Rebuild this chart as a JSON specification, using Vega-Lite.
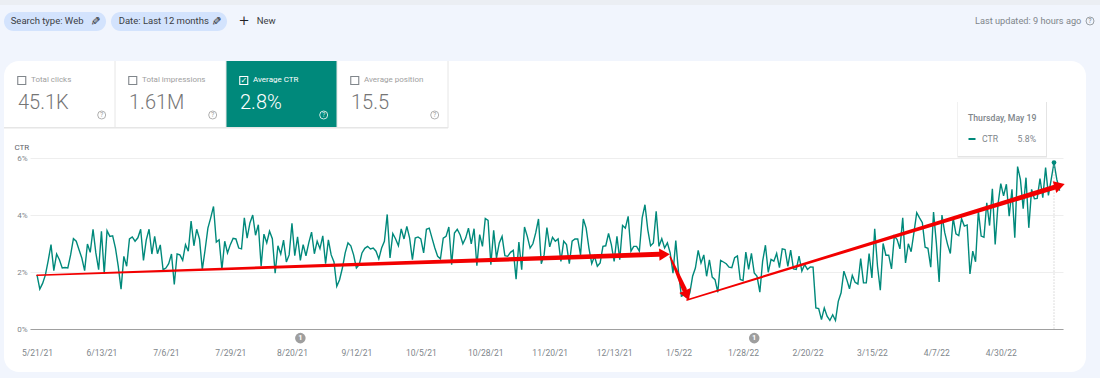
{
"$schema":"https://vega.github.io/schema/vega-lite/v6.json",
"width":1082,"height":311,
"autosize":"none",
"padding":{"left":4,"top":61,"right":14,"bottom":6},
"background":"#f1f5fd",
"config":{"font":"Roboto","view":{"fill":"#ffffff","stroke":null,"cornerRadius":15}},
"datasets":{
"ctr":[
{"date":"2021-05-21","ctr":1.9},{"date":"2021-05-22","ctr":1.4},{"date":"2021-05-23","ctr":1.6},{"date":"2021-05-24","ctr":1.9},{"date":"2021-05-25","ctr":2.4},{"date":"2021-05-26","ctr":2.96},{"date":"2021-05-27","ctr":2.05},{"date":"2021-05-28","ctr":2.63},{"date":"2021-05-29","ctr":2.43},{"date":"2021-05-30","ctr":2.14},{"date":"2021-05-31","ctr":2.16},
{"date":"2021-06-01","ctr":2.14},{"date":"2021-06-02","ctr":2.6},{"date":"2021-06-03","ctr":3.17},{"date":"2021-06-04","ctr":3.08},{"date":"2021-06-05","ctr":2.78},{"date":"2021-06-06","ctr":2.49},{"date":"2021-06-07","ctr":2.05},{"date":"2021-06-08","ctr":2.98},{"date":"2021-06-09","ctr":2.69},{"date":"2021-06-10","ctr":3.5},{"date":"2021-06-11","ctr":2.67},{"date":"2021-06-12","ctr":2.08},{"date":"2021-06-13","ctr":3.43},{"date":"2021-06-14","ctr":1.94},{"date":"2021-06-15","ctr":3.45},{"date":"2021-06-16","ctr":3.25},{"date":"2021-06-17","ctr":3.27},{"date":"2021-06-18","ctr":2.84},{"date":"2021-06-19","ctr":2.2},{"date":"2021-06-20","ctr":1.4},{"date":"2021-06-21","ctr":2.55},{"date":"2021-06-22","ctr":2.2},{"date":"2021-06-23","ctr":3.16},{"date":"2021-06-24","ctr":3.23},{"date":"2021-06-25","ctr":3.08},{"date":"2021-06-26","ctr":3.2},{"date":"2021-06-27","ctr":3.5},{"date":"2021-06-28","ctr":2.41},{"date":"2021-06-29","ctr":3.13},{"date":"2021-06-30","ctr":3.5},
{"date":"2021-07-01","ctr":2.63},{"date":"2021-07-02","ctr":3.25},{"date":"2021-07-03","ctr":2.64},{"date":"2021-07-04","ctr":2.95},{"date":"2021-07-05","ctr":2.08},{"date":"2021-07-06","ctr":2.14},{"date":"2021-07-07","ctr":2.29},{"date":"2021-07-08","ctr":2.63},{"date":"2021-07-09","ctr":1.56},{"date":"2021-07-10","ctr":2.63},{"date":"2021-07-11","ctr":2.6},{"date":"2021-07-12","ctr":2.41},{"date":"2021-07-13","ctr":2.96},{"date":"2021-07-14","ctr":2.73},{"date":"2021-07-15","ctr":3.79},{"date":"2021-07-16","ctr":2.92},{"date":"2021-07-17","ctr":3.5},{"date":"2021-07-18","ctr":3.16},{"date":"2021-07-19","ctr":2.08},{"date":"2021-07-20","ctr":2.78},{"date":"2021-07-21","ctr":3.54},{"date":"2021-07-22","ctr":3.9},{"date":"2021-07-23","ctr":4.3},{"date":"2021-07-24","ctr":3.05},{"date":"2021-07-25","ctr":3.13},{"date":"2021-07-26","ctr":2.08},{"date":"2021-07-27","ctr":3.08},{"date":"2021-07-28","ctr":2.67},{"date":"2021-07-29","ctr":2.96},{"date":"2021-07-30","ctr":3.18},{"date":"2021-07-31","ctr":3.16},
{"date":"2021-08-01","ctr":2.84},{"date":"2021-08-02","ctr":2.81},{"date":"2021-08-03","ctr":3.9},{"date":"2021-08-04","ctr":3.19},{"date":"2021-08-05","ctr":3.72},{"date":"2021-08-06","ctr":4.0},{"date":"2021-08-07","ctr":3.29},{"date":"2021-08-08","ctr":3.66},{"date":"2021-08-09","ctr":2.2},{"date":"2021-08-10","ctr":3.33},{"date":"2021-08-11","ctr":3.02},{"date":"2021-08-12","ctr":3.43},{"date":"2021-08-13","ctr":3.17},{"date":"2021-08-14","ctr":1.96},{"date":"2021-08-15","ctr":2.92},{"date":"2021-08-16","ctr":2.63},{"date":"2021-08-17","ctr":3.12},{"date":"2021-08-18","ctr":2.35},{"date":"2021-08-19","ctr":2.6},{"date":"2021-08-20","ctr":3.71},{"date":"2021-08-21","ctr":2.57},{"date":"2021-08-22","ctr":3.23},{"date":"2021-08-23","ctr":2.41},{"date":"2021-08-24","ctr":2.96},{"date":"2021-08-25","ctr":2.57},{"date":"2021-08-26","ctr":3.02},{"date":"2021-08-27","ctr":3.4},{"date":"2021-08-28","ctr":2.64},{"date":"2021-08-29","ctr":3.08},{"date":"2021-08-30","ctr":2.82},{"date":"2021-08-31","ctr":3.27},
{"date":"2021-09-01","ctr":2.29},{"date":"2021-09-02","ctr":3.13},{"date":"2021-09-03","ctr":2.6},{"date":"2021-09-04","ctr":2.35},{"date":"2021-09-05","ctr":1.5},{"date":"2021-09-06","ctr":1.73},{"date":"2021-09-07","ctr":2.14},{"date":"2021-09-08","ctr":2.67},{"date":"2021-09-09","ctr":3.02},{"date":"2021-09-10","ctr":2.92},{"date":"2021-09-11","ctr":2.6},{"date":"2021-09-12","ctr":2.14},{"date":"2021-09-13","ctr":2.26},{"date":"2021-09-14","ctr":2.67},{"date":"2021-09-15","ctr":2.83},{"date":"2021-09-16","ctr":2.9},{"date":"2021-09-17","ctr":2.81},{"date":"2021-09-18","ctr":2.84},{"date":"2021-09-19","ctr":2.73},{"date":"2021-09-20","ctr":2.46},{"date":"2021-09-21","ctr":2.84},{"date":"2021-09-22","ctr":3.08},{"date":"2021-09-23","ctr":4.02},{"date":"2021-09-24","ctr":2.49},{"date":"2021-09-25","ctr":3.35},{"date":"2021-09-26","ctr":3.16},{"date":"2021-09-27","ctr":2.92},{"date":"2021-09-28","ctr":3.51},{"date":"2021-09-29","ctr":3.16},{"date":"2021-09-30","ctr":3.6},
{"date":"2021-10-01","ctr":3.19},{"date":"2021-10-02","ctr":2.43},{"date":"2021-10-03","ctr":3.19},{"date":"2021-10-04","ctr":3.23},{"date":"2021-10-05","ctr":3.16},{"date":"2021-10-06","ctr":2.67},{"date":"2021-10-07","ctr":3.5},{"date":"2021-10-08","ctr":3.54},{"date":"2021-10-09","ctr":3.19},{"date":"2021-10-10","ctr":2.84},{"date":"2021-10-11","ctr":2.55},{"date":"2021-10-12","ctr":2.46},{"date":"2021-10-13","ctr":3.19},{"date":"2021-10-14","ctr":3.25},{"date":"2021-10-15","ctr":3.58},{"date":"2021-10-16","ctr":2.26},{"date":"2021-10-17","ctr":3.37},{"date":"2021-10-18","ctr":3.5},{"date":"2021-10-19","ctr":3.31},{"date":"2021-10-20","ctr":2.99},{"date":"2021-10-21","ctr":3.19},{"date":"2021-10-22","ctr":3.54},{"date":"2021-10-23","ctr":2.99},{"date":"2021-10-24","ctr":3.52},{"date":"2021-10-25","ctr":2.22},{"date":"2021-10-26","ctr":3.31},{"date":"2021-10-27","ctr":2.9},{"date":"2021-10-28","ctr":3.88},{"date":"2021-10-29","ctr":3.81},{"date":"2021-10-30","ctr":2.26},{"date":"2021-10-31","ctr":3.46},
{"date":"2021-11-01","ctr":2.49},{"date":"2021-11-02","ctr":3.02},{"date":"2021-11-03","ctr":3.25},{"date":"2021-11-04","ctr":2.57},{"date":"2021-11-05","ctr":2.55},{"date":"2021-11-06","ctr":2.69},{"date":"2021-11-07","ctr":2.76},{"date":"2021-11-08","ctr":1.75},{"date":"2021-11-09","ctr":3.05},{"date":"2021-11-10","ctr":2.08},{"date":"2021-11-11","ctr":3.58},{"date":"2021-11-12","ctr":3.25},{"date":"2021-11-13","ctr":2.84},{"date":"2021-11-14","ctr":2.99},{"date":"2021-11-15","ctr":3.37},{"date":"2021-11-16","ctr":3.86},{"date":"2021-11-17","ctr":2.29},{"date":"2021-11-18","ctr":2.6},{"date":"2021-11-19","ctr":3.56},{"date":"2021-11-20","ctr":2.88},{"date":"2021-11-21","ctr":3.22},{"date":"2021-11-22","ctr":3.08},{"date":"2021-11-23","ctr":3.16},{"date":"2021-11-24","ctr":2.37},{"date":"2021-11-25","ctr":3.08},{"date":"2021-11-26","ctr":2.96},{"date":"2021-11-27","ctr":2.29},{"date":"2021-11-28","ctr":3.08},{"date":"2021-11-29","ctr":3.16},{"date":"2021-11-30","ctr":3.16},
{"date":"2021-12-01","ctr":2.6},{"date":"2021-12-02","ctr":3.86},{"date":"2021-12-03","ctr":3.54},{"date":"2021-12-04","ctr":2.84},{"date":"2021-12-05","ctr":2.29},{"date":"2021-12-06","ctr":2.55},{"date":"2021-12-07","ctr":2.2},{"date":"2021-12-08","ctr":2.32},{"date":"2021-12-09","ctr":2.9},{"date":"2021-12-10","ctr":2.92},{"date":"2021-12-11","ctr":3.35},{"date":"2021-12-12","ctr":2.96},{"date":"2021-12-13","ctr":2.37},{"date":"2021-12-14","ctr":3.25},{"date":"2021-12-15","ctr":2.43},{"date":"2021-12-16","ctr":3.63},{"date":"2021-12-17","ctr":3.54},{"date":"2021-12-18","ctr":3.95},{"date":"2021-12-19","ctr":2.73},{"date":"2021-12-20","ctr":2.9},{"date":"2021-12-21","ctr":2.9},{"date":"2021-12-22","ctr":2.73},{"date":"2021-12-23","ctr":3.9},{"date":"2021-12-24","ctr":4.36},{"date":"2021-12-25","ctr":3.49},{"date":"2021-12-26","ctr":2.92},{"date":"2021-12-27","ctr":3.02},{"date":"2021-12-28","ctr":4.13},{"date":"2021-12-29","ctr":2.9},{"date":"2021-12-30","ctr":3.17},{"date":"2021-12-31","ctr":2.84},
{"date":"2022-01-01","ctr":3.02},{"date":"2022-01-02","ctr":2.67},{"date":"2022-01-03","ctr":1.96},{"date":"2022-01-04","ctr":3.1},{"date":"2022-01-05","ctr":1.96},{"date":"2022-01-06","ctr":1.15},{"date":"2022-01-07","ctr":1.2},{"date":"2022-01-08","ctr":1.09},{"date":"2022-01-09","ctr":1.26},{"date":"2022-01-10","ctr":1.85},{"date":"2022-01-11","ctr":2.14},{"date":"2022-01-12","ctr":2.76},{"date":"2022-01-13","ctr":2.32},{"date":"2022-01-14","ctr":2.6},{"date":"2022-01-15","ctr":1.85},{"date":"2022-01-16","ctr":2.43},{"date":"2022-01-17","ctr":1.82},{"date":"2022-01-18","ctr":1.73},{"date":"2022-01-19","ctr":1.29},{"date":"2022-01-20","ctr":2.41},{"date":"2022-01-21","ctr":2.35},{"date":"2022-01-22","ctr":2.29},{"date":"2022-01-23","ctr":2.17},{"date":"2022-01-24","ctr":2.15},{"date":"2022-01-25","ctr":2.5},{"date":"2022-01-26","ctr":2.56},{"date":"2022-01-27","ctr":1.74},{"date":"2022-01-28","ctr":1.7},{"date":"2022-01-29","ctr":2.7},{"date":"2022-01-30","ctr":2.09},{"date":"2022-01-31","ctr":2.65},
{"date":"2022-02-01","ctr":1.97},{"date":"2022-02-02","ctr":1.85},{"date":"2022-02-03","ctr":1.29},{"date":"2022-02-04","ctr":2.38},{"date":"2022-02-05","ctr":2.94},{"date":"2022-02-06","ctr":1.99},{"date":"2022-02-07","ctr":2.44},{"date":"2022-02-08","ctr":2.38},{"date":"2022-02-09","ctr":2.65},{"date":"2022-02-10","ctr":2.15},{"date":"2022-02-11","ctr":2.81},{"date":"2022-02-12","ctr":2.79},{"date":"2022-02-13","ctr":2.2},{"date":"2022-02-14","ctr":2.77},{"date":"2022-02-15","ctr":2.11},{"date":"2022-02-16","ctr":2.09},{"date":"2022-02-17","ctr":2.56},{"date":"2022-02-18","ctr":2.03},{"date":"2022-02-19","ctr":2.26},{"date":"2022-02-20","ctr":2.09},{"date":"2022-02-21","ctr":2.18},{"date":"2022-02-22","ctr":2.17},{"date":"2022-02-23","ctr":0.74},{"date":"2022-02-24","ctr":0.72},{"date":"2022-02-25","ctr":0.33},{"date":"2022-02-26","ctr":0.74},{"date":"2022-02-27","ctr":0.45},{"date":"2022-02-28","ctr":0.3},
{"date":"2022-03-01","ctr":0.5},{"date":"2022-03-02","ctr":0.3},{"date":"2022-03-03","ctr":0.97},{"date":"2022-03-04","ctr":1.27},{"date":"2022-03-05","ctr":2.03},{"date":"2022-03-06","ctr":1.74},{"date":"2022-03-07","ctr":1.41},{"date":"2022-03-08","ctr":1.88},{"date":"2022-03-09","ctr":1.64},{"date":"2022-03-10","ctr":1.58},{"date":"2022-03-11","ctr":2.47},{"date":"2022-03-12","ctr":1.62},{"date":"2022-03-13","ctr":1.62},{"date":"2022-03-14","ctr":2.65},{"date":"2022-03-15","ctr":1.79},{"date":"2022-03-16","ctr":3.52},{"date":"2022-03-17","ctr":2.2},{"date":"2022-03-18","ctr":1.36},{"date":"2022-03-19","ctr":3.0},{"date":"2022-03-20","ctr":2.59},{"date":"2022-03-21","ctr":2.59},{"date":"2022-03-22","ctr":2.11},{"date":"2022-03-23","ctr":3.26},{"date":"2022-03-24","ctr":3.14},{"date":"2022-03-25","ctr":2.81},{"date":"2022-03-26","ctr":3.9},{"date":"2022-03-27","ctr":2.32},{"date":"2022-03-28","ctr":2.99},{"date":"2022-03-29","ctr":2.71},{"date":"2022-03-30","ctr":3.38},{"date":"2022-03-31","ctr":4.08},
{"date":"2022-04-01","ctr":3.9},{"date":"2022-04-02","ctr":3.73},{"date":"2022-04-03","ctr":2.87},{"date":"2022-04-04","ctr":2.83},{"date":"2022-04-05","ctr":2.17},{"date":"2022-04-06","ctr":4.1},{"date":"2022-04-07","ctr":3.02},{"date":"2022-04-08","ctr":1.65},{"date":"2022-04-09","ctr":4.0},{"date":"2022-04-10","ctr":3.38},{"date":"2022-04-11","ctr":2.97},{"date":"2022-04-12","ctr":2.65},{"date":"2022-04-13","ctr":3.9},{"date":"2022-04-14","ctr":3.34},{"date":"2022-04-15","ctr":3.28},{"date":"2022-04-16","ctr":3.87},{"date":"2022-04-17","ctr":3.61},{"date":"2022-04-18","ctr":3.65},{"date":"2022-04-19","ctr":1.93},{"date":"2022-04-20","ctr":2.73},{"date":"2022-04-21","ctr":2.36},{"date":"2022-04-22","ctr":4.14},{"date":"2022-04-23","ctr":3.26},{"date":"2022-04-24","ctr":3.22},{"date":"2022-04-25","ctr":4.43},{"date":"2022-04-26","ctr":3.63},{"date":"2022-04-27","ctr":4.92},{"date":"2022-04-28","ctr":2.97},{"date":"2022-04-29","ctr":4.37},{"date":"2022-04-30","ctr":5.1},
{"date":"2022-05-01","ctr":4.67},{"date":"2022-05-02","ctr":5.08},{"date":"2022-05-03","ctr":3.96},{"date":"2022-05-04","ctr":4.9},{"date":"2022-05-05","ctr":3.2},{"date":"2022-05-06","ctr":5.7},{"date":"2022-05-07","ctr":5.25},{"date":"2022-05-08","ctr":4.22},{"date":"2022-05-09","ctr":5.31},{"date":"2022-05-10","ctr":3.55},{"date":"2022-05-11","ctr":4.9},{"date":"2022-05-12","ctr":4.57},{"date":"2022-05-13","ctr":4.58},{"date":"2022-05-14","ctr":5.28},{"date":"2022-05-15","ctr":4.61},{"date":"2022-05-16","ctr":5.66},{"date":"2022-05-17","ctr":4.69},{"date":"2022-05-18","ctr":5.25},{"date":"2022-05-19","ctr":5.84},{"date":"2022-05-20","ctr":5.25},{"date":"2022-05-21","ctr":4.85}
],
"tiles":[
{"tile":"Total clicks","figure":"45.1K","selected":false},
{"tile":"Total impressions","figure":"1.61M","selected":false},
{"tile":"Average CTR","figure":"2.8%","selected":true},
{"tile":"Average position","figure":"15.5","selected":false}
],
"trend":[
{"arrow":"rise 2021","date":"2021-05-21","ctr":1.89,"end":0},
{"arrow":"rise 2021","date":"2021-12-29","ctr":2.62,"end":1},
{"arrow":"drop","date":"2022-01-02","ctr":2.53,"end":0},
{"arrow":"drop","date":"2022-01-07","ctr":1.4,"end":1},
{"arrow":"recovery","date":"2022-01-08","ctr":1.02,"end":0},
{"arrow":"recovery","date":"2022-05-19","ctr":4.97,"end":1}
],
"heads":[
{"arrow":"rise 2021","date":"2021-12-31","ctr":2.62,"heading":358},
{"arrow":"drop","date":"2022-01-08","ctr":1.18,"heading":67},
{"arrow":"recovery","date":"2022-05-21","ctr":5.03,"heading":343}
]
},
"resolve":{"scale":{"x":"independent","y":"independent"},"axis":{"x":"independent","y":"independent"}},
"layer":[
{"data":{"values":[{"part":"top"}]},"mark":{"type":"rect","fill":"#ebeef3"},
 "encoding":{"x":{"field":"part","type":"nominal","axis":null,"scale":{"domain":["top"],"range":[-4,1096],"paddingInner":0,"paddingOuter":0}},
 "y":{"field":"part","type":"nominal","axis":null,"scale":{"domain":["top"],"range":[-61,-56],"paddingInner":0,"paddingOuter":0}}}},
{
"encoding":{
 "x":{"field":"date","type":"temporal","title":null,
  "scale":{"type":"utc","domain":[{"year":2021,"month":5,"date":18,"hours":12,"utc":true},{"year":2022,"month":5,"date":22,"hours":5,"utc":true}],"range":[26,1059],"nice":false},
  "axis":{"orient":"bottom","offset":-43,"format":"%-m/%-d/%y","grid":false,"ticks":false,"domainColor":"#a0a0a0","domainWidth":1,"labelColor":"#80868b","labelFontSize":8.5,"labelPadding":19,"labelBound":false,"labelFlush":false,"labelOverlap":false,
   "values":[{"year":2021,"month":5,"date":21,"utc":true},{"year":2021,"month":6,"date":13,"utc":true},{"year":2021,"month":7,"date":6,"utc":true},{"year":2021,"month":7,"date":29,"utc":true},{"year":2021,"month":8,"date":20,"utc":true},{"year":2021,"month":9,"date":12,"utc":true},{"year":2021,"month":10,"date":5,"utc":true},{"year":2021,"month":10,"date":28,"utc":true},{"year":2021,"month":11,"date":20,"utc":true},{"year":2021,"month":12,"date":13,"utc":true},{"year":2022,"month":1,"date":5,"utc":true},{"year":2022,"month":1,"date":28,"utc":true},{"year":2022,"month":2,"date":20,"utc":true},{"year":2022,"month":3,"date":15,"utc":true},{"year":2022,"month":4,"date":7,"utc":true},{"year":2022,"month":4,"date":30,"utc":true}]}},
 "y":{"field":"ctr","type":"quantitative",
  "scale":{"domain":[0,6],"range":[268,97],"nice":false,"zero":false},
  "axis":{"orient":"left","offset":-26,"values":[0,2,4,6],"labelExpr":"datum.value + '%'","grid":true,"gridColor":"#eeeeee","gridWidth":1,"domain":false,"ticks":false,"labelColor":"#80868b","labelFontSize":8,"labelPadding":3,"labelBound":false,"labelOverlap":false,
   "title":"CTR","titleAngle":0,"titleColor":"#5f6368","titleFontSize":8,"titleFontWeight":"normal","titleAlign":"left","titleBaseline":"middle","titleX":-16,"titleY":86}}
},
"layer":[
 {"data":{"name":"ctr"},"mark":{"type":"line","color":"#00897b","strokeWidth":1.4,"interpolate":"linear"}},
 {"data":{"values":[{"date":"2022-05-19","ctr":5.84}]},"mark":{"type":"rule","color":"#bdbdbd","strokeWidth":1,"strokeDash":[1,2]},"encoding":{"y2":{"datum":0}}},
 {"data":{"values":[{"date":"2022-05-19","ctr":5.84}]},"mark":{"type":"point","filled":true,"shape":"circle","size":22,"color":"#00897b","opacity":1}},
 {"data":{"name":"trend"},"mark":{"type":"trail","color":"#f20000"},"encoding":{"detail":{"field":"arrow"},"size":{"field":"end","type":"quantitative","legend":null,"scale":{"domain":[0,1],"range":[1.5,5]}}}},
 {"data":{"name":"heads"},"mark":{"type":"point","filled":true,"shape":"triangle-right","size":150,"color":"#f20000","opacity":1},"encoding":{"angle":{"field":"heading","type":"quantitative","scale":null}}},
 {"data":{"values":[{"date":"2021-08-23","ctr":-0.32,"note":"1"},{"date":"2022-02-01","ctr":-0.32,"note":"1"}]},"mark":{"type":"point","filled":true,"shape":"circle","size":112,"color":"#9e9e9e","opacity":1}},
 {"data":{"values":[{"date":"2021-08-23","ctr":-0.32,"note":"1"},{"date":"2022-02-01","ctr":-0.32,"note":"1"}]},"mark":{"type":"text","color":"#ffffff","fontSize":7.5,"fontWeight":"bold","align":"center","baseline":"middle"},"encoding":{"text":{"field":"note"}}}
]},
{"data":{"name":"tiles"},
 "resolve":{"scale":{"y":"independent"}},
 "layer":[
 {"transform":[{"filter":"datum.selected"}],"mark":{"type":"rect","fill":"#00897b"},"encoding":{
  "x":{"field":"tile","type":"nominal","axis":null,"scale":{"domain":["Total clicks","Total impressions","Average CTR","Average position"],"range":[0,444],"paddingInner":0,"paddingOuter":0}},
  "y":{"datum":"strip","type":"nominal","axis":null,"scale":{"domain":["strip"],"range":[0,67],"paddingInner":0,"paddingOuter":0}}}},
 {"mark":{"type":"rect","fill":"#e6e6e6"},"encoding":{
  "x":{"field":"tile","type":"nominal","axis":null,"scale":{"domain":["Total clicks","Total impressions","Average CTR","Average position"],"range":[0,444],"paddingInner":0,"paddingOuter":0}},
  "y":{"datum":"edge","type":"nominal","axis":null,"scale":{"domain":["edge"],"range":[66,67.5],"paddingInner":0,"paddingOuter":0}}}},
 {"mark":{"type":"rule","stroke":"#e6e6e6","strokeWidth":1},"encoding":{
  "x":{"field":"tile","type":"nominal","bandPosition":1,"axis":null,"scale":{"domain":["Total clicks","Total impressions","Average CTR","Average position"],"range":[0,444],"paddingInner":0,"paddingOuter":0}},
  "y":{"datum":"top","type":"nominal","axis":null,"scale":{"type":"point","domain":["top","bottom"],"range":[0,67],"padding":0}},
  "y2":{"datum":"bottom"}}},
 {"mark":{"type":"point","shape":"square","size":64,"filled":false,"strokeWidth":1.1,"opacity":1},"encoding":{
  "x":{"field":"tile","type":"nominal","bandPosition":0.16,"axis":null,"scale":{"domain":["Total clicks","Total impressions","Average CTR","Average position"],"range":[0,444],"paddingInner":0,"paddingOuter":0}},
  "y":{"datum":"check","type":"nominal","axis":null,"scale":{"type":"point","domain":["check"],"range":[19.5,19.5],"padding":0}},
  "stroke":{"condition":{"test":"datum.selected","value":"#ffffff"},"value":"#80868b"}}},
 {"transform":[{"filter":"datum.selected"}],"mark":{"type":"text","text":"✓","font":"DejaVu Sans","fontSize":8,"color":"#ffffff","align":"center","baseline":"middle"},"encoding":{
  "x":{"field":"tile","type":"nominal","bandPosition":0.16,"axis":null,"scale":{"domain":["Total clicks","Total impressions","Average CTR","Average position"],"range":[0,444],"paddingInner":0,"paddingOuter":0}},
  "y":{"datum":"check","type":"nominal","axis":null,"scale":{"type":"point","domain":["check"],"range":[19.5,19.5],"padding":0}}}},
 {"mark":{"type":"text","align":"left","baseline":"middle","fontSize":8,"dx":27},"encoding":{
  "x":{"field":"tile","type":"nominal","bandPosition":0,"axis":null,"scale":{"domain":["Total clicks","Total impressions","Average CTR","Average position"],"range":[0,444],"paddingInner":0,"paddingOuter":0}},
  "y":{"datum":"label","type":"nominal","axis":null,"scale":{"type":"point","domain":["label"],"range":[19,19],"padding":0}},
  "text":{"field":"tile"},
  "fontWeight":{"condition":{"test":"datum.selected","value":500},"value":400},
  "color":{"condition":{"test":"datum.selected","value":"#ffffff"},"value":"#a0a0a0"}}},
 {"mark":{"type":"text","align":"left","baseline":"alphabetic","fontSize":20,"dx":14,"fontWeight":300},"encoding":{
  "x":{"field":"tile","type":"nominal","bandPosition":0,"axis":null,"scale":{"domain":["Total clicks","Total impressions","Average CTR","Average position"],"range":[0,444],"paddingInner":0,"paddingOuter":0}},
  "y":{"datum":"figure","type":"nominal","axis":null,"scale":{"type":"point","domain":["figure"],"range":[48,48],"padding":0}},
  "text":{"field":"figure"},
  "color":{"condition":{"test":"datum.selected","value":"#ffffff"},"value":"#757575"}}},
 {"mark":{"type":"point","shape":"circle","size":64,"filled":false,"strokeWidth":1,"opacity":1},"encoding":{
  "x":{"field":"tile","type":"nominal","bandPosition":0.88,"axis":null,"scale":{"domain":["Total clicks","Total impressions","Average CTR","Average position"],"range":[0,444],"paddingInner":0,"paddingOuter":0}},
  "y":{"datum":"help","type":"nominal","axis":null,"scale":{"type":"point","domain":["help"],"range":[54,54],"padding":0}},
  "stroke":{"condition":{"test":"datum.selected","value":"#cfe8e4"},"value":"#b0b0b0"}}},
 {"mark":{"type":"text","text":"?","fontSize":7,"align":"center","baseline":"middle"},"encoding":{
  "x":{"field":"tile","type":"nominal","bandPosition":0.88,"axis":null,"scale":{"domain":["Total clicks","Total impressions","Average CTR","Average position"],"range":[0,444],"paddingInner":0,"paddingOuter":0}},
  "y":{"datum":"help","type":"nominal","axis":null,"scale":{"type":"point","domain":["help"],"range":[54,54],"padding":0}},
  "color":{"condition":{"test":"datum.selected","value":"#cfe8e4"},"value":"#9e9e9e"}}}
]},
{"data":{"values":[{"chip":"search"}]},"mark":{"type":"rect","fill":"#d3e3fd","cornerRadius":9.5},"encoding":{
 "x":{"field":"chip","type":"nominal","axis":null,"scale":{"domain":["search"],"range":[0,102],"paddingInner":0,"paddingOuter":0}},
 "y":{"field":"chip","type":"nominal","axis":null,"scale":{"domain":["search"],"range":[-49,-30],"paddingInner":0,"paddingOuter":0}}}},
{"data":{"values":[{"chip":"date"}]},"mark":{"type":"rect","fill":"#d3e3fd","cornerRadius":9.5},"encoding":{
 "x":{"field":"chip","type":"nominal","axis":null,"scale":{"domain":["date"],"range":[107,223],"paddingInner":0,"paddingOuter":0}},
 "y":{"field":"chip","type":"nominal","axis":null,"scale":{"domain":["date"],"range":[-49,-30],"paddingInner":0,"paddingOuter":0}}}},
{"data":{"values":[{"label":"Search type: Web"},{"label":"Date: Last 12 months"}]},"mark":{"type":"text","align":"left","baseline":"middle","fontSize":9.5,"fontWeight":400,"color":"#3c4043"},"encoding":{
 "x":{"field":"label","type":"nominal","axis":null,"scale":{"type":"point","domain":["Search type: Web","Date: Last 12 months"],"range":[6.7,114.7],"padding":0}},
 "y":{"datum":"row","type":"nominal","axis":null,"scale":{"type":"point","domain":["row"],"range":[-40,-40],"padding":0}},
 "text":{"field":"label"}}},
{"data":{"values":[{"edit":"search"},{"edit":"date"}]},"mark":{"type":"text","text":"✎","angle":90,"font":"DejaVu Sans","align":"center","baseline":"middle","fontSize":12,"color":"#202124"},"encoding":{
 "x":{"field":"edit","type":"nominal","axis":null,"scale":{"type":"point","domain":["search","date"],"range":[91,212],"padding":0}},
 "y":{"datum":"row","type":"nominal","axis":null,"scale":{"type":"point","domain":["row"],"range":[-40,-40],"padding":0}}}},
{"data":{"values":[{"label":"+"}]},"mark":{"type":"text","align":"center","baseline":"middle","fontSize":17,"fontWeight":300,"color":"#202124"},"encoding":{
 "x":{"field":"label","type":"nominal","axis":null,"scale":{"type":"point","domain":["+"],"range":[240,240],"padding":0}},
 "y":{"datum":"row","type":"nominal","axis":null,"scale":{"type":"point","domain":["row"],"range":[-40,-40],"padding":0}},
 "text":{"field":"label"}}},
{"data":{"values":[{"label":"New"}]},"mark":{"type":"text","align":"left","baseline":"middle","fontSize":9.5,"fontWeight":400,"color":"#3c4043"},"encoding":{
 "x":{"field":"label","type":"nominal","axis":null,"scale":{"type":"point","domain":["New"],"range":[252.7,252.7],"padding":0}},
 "y":{"datum":"row","type":"nominal","axis":null,"scale":{"type":"point","domain":["row"],"range":[-40,-40],"padding":0}},
 "text":{"field":"label"}}},
{"data":{"values":[{"label":"Last updated: 9 hours ago"}]},"mark":{"type":"text","align":"left","baseline":"middle","fontSize":9.2,"color":"#80868b"},"encoding":{
 "x":{"field":"label","type":"nominal","axis":null,"scale":{"type":"point","domain":["Last updated: 9 hours ago"],"range":[971,971],"padding":0}},
 "y":{"datum":"row","type":"nominal","axis":null,"scale":{"type":"point","domain":["row"],"range":[-40,-40],"padding":0}},
 "text":{"field":"label"}}},
{"data":{"values":[{"label":"?"}]},"layer":[
 {"mark":{"type":"point","shape":"circle","size":64,"filled":false,"stroke":"#9aa0a6","strokeWidth":1,"opacity":1}},
 {"mark":{"type":"text","fontSize":7,"color":"#80868b","align":"center","baseline":"middle"},"encoding":{"text":{"field":"label"}}}],
 "encoding":{
 "x":{"field":"label","type":"nominal","axis":null,"scale":{"type":"point","domain":["?"],"range":[1086,1086],"padding":0}},
 "y":{"datum":"row","type":"nominal","axis":null,"scale":{"type":"point","domain":["row"],"range":[-40,-40],"padding":0}}}},
{"data":{"values":[{"box":"shadow"}]},"mark":{"type":"rect","fill":"#d8d8d8","opacity":0.7},"encoding":{
 "x":{"field":"box","type":"nominal","axis":null,"scale":{"domain":["shadow"],"range":[953.5,1043],"paddingInner":0,"paddingOuter":0}},
 "y":{"field":"box","type":"nominal","axis":null,"scale":{"domain":["shadow"],"range":[41,96.5],"paddingInner":0,"paddingOuter":0}}}},
{"data":{"values":[{"box":"tooltip"}]},"mark":{"type":"rect","fill":"#ffffff"},"encoding":{
 "x":{"field":"box","type":"nominal","axis":null,"scale":{"domain":["tooltip"],"range":[954,1042],"paddingInner":0,"paddingOuter":0}},
 "y":{"field":"box","type":"nominal","axis":null,"scale":{"domain":["tooltip"],"range":[41,95],"paddingInner":0,"paddingOuter":0}}}},
{"data":{"values":[{"label":"Thursday, May 19"}]},"mark":{"type":"text","align":"left","baseline":"middle","fontSize":8.7,"fontWeight":500,"color":"#80868b"},"encoding":{
 "x":{"field":"label","type":"nominal","axis":null,"scale":{"type":"point","domain":["Thursday, May 19"],"range":[964,964],"padding":0}},
 "y":{"datum":"row","type":"nominal","axis":null,"scale":{"type":"point","domain":["row"],"range":[57,57],"padding":0}},
 "text":{"field":"label"}}},
{"data":{"values":[{"box":"swatch"}]},"mark":{"type":"rect","fill":"#00897b"},"encoding":{
 "x":{"field":"box","type":"nominal","axis":null,"scale":{"domain":["swatch"],"range":[964.5,971.5],"paddingInner":0,"paddingOuter":0}},
 "y":{"field":"box","type":"nominal","axis":null,"scale":{"domain":["swatch"],"range":[77,79],"paddingInner":0,"paddingOuter":0}}}},
{"data":{"values":[{"label":"CTR"}]},"mark":{"type":"text","align":"left","baseline":"middle","fontSize":8.7,"color":"#80868b"},"encoding":{
 "x":{"field":"label","type":"nominal","axis":null,"scale":{"type":"point","domain":["CTR"],"range":[978,978],"padding":0}},
 "y":{"datum":"row","type":"nominal","axis":null,"scale":{"type":"point","domain":["row"],"range":[78,78],"padding":0}},
 "text":{"field":"label"}}},
{"data":{"values":[{"label":"5.8%"}]},"mark":{"type":"text","align":"right","baseline":"middle","fontSize":8.7,"color":"#80868b"},"encoding":{
 "x":{"field":"label","type":"nominal","axis":null,"scale":{"type":"point","domain":["5.8%"],"range":[1032,1032],"padding":0}},
 "y":{"datum":"row","type":"nominal","axis":null,"scale":{"type":"point","domain":["row"],"range":[78,78],"padding":0}},
 "text":{"field":"label"}}}
]
}
